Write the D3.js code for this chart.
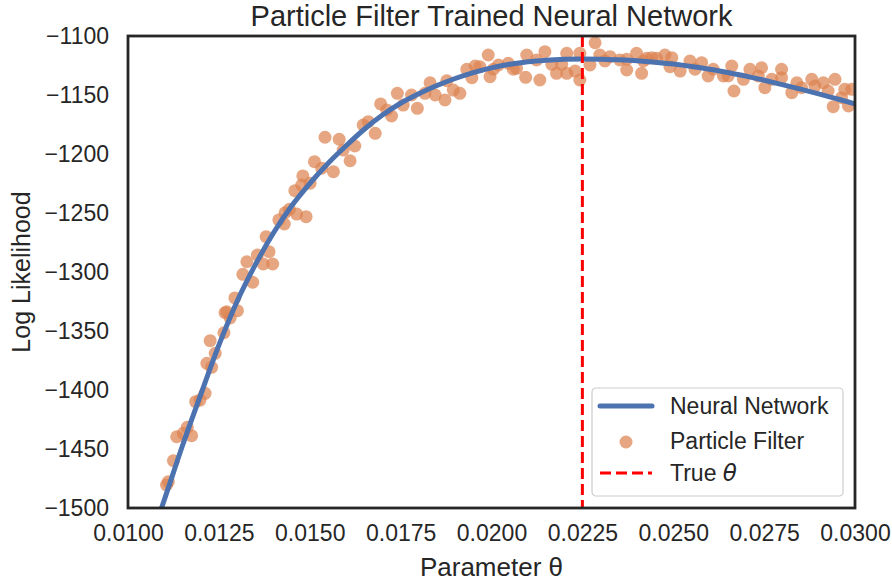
<!DOCTYPE html>
<html>
<head>
<meta charset="utf-8">
<script src="https://cdn.jsdelivr.net/npm/d3@7"></script>
<style>
  body { margin: 0; background: #fff; }
  text { font-family: "Liberation Sans", Arial, sans-serif; fill: #262626; }
</style>
</head>
<body>
<div id="chart"></div>
<script>
// Neural network curve (theta, log likelihood)
var nnTheta = [0.0109, 0.0110, 0.0115, 0.0120, 0.0125, 0.0130, 0.0135, 0.0140, 0.0145, 0.0150,
  0.0155, 0.0160, 0.0165, 0.0170, 0.0175, 0.0180, 0.0185, 0.0190, 0.0195, 0.0200,
  0.0205, 0.0210, 0.0215, 0.0220, 0.0225, 0.0230, 0.0235, 0.0240, 0.0245, 0.0250,
  0.0255, 0.0260, 0.0265, 0.0270, 0.0275, 0.0280, 0.0285, 0.0290, 0.0295, 0.0300]
var nnLL = [-1502, -1493, -1447, -1404, -1362, -1325, -1294, -1267, -1244, -1225,
  -1208, -1193, -1179, -1167, -1157, -1149, -1142, -1136, -1131, -1127,
  -1124, -1121.8, -1120.5, -1119.7, -1119.4, -1119.6, -1120.2, -1121, -1122.2, -1123.8,
  -1125.8, -1128.2, -1131, -1134, -1137.5, -1141.2, -1145, -1149, -1153.2, -1157.5]

// Particle filter estimates
var pfTheta = [0.01106, 0.01111, 0.01125, 0.01134, 0.01152, 0.01163, 0.01175, 0.01186, 0.01198, 0.01212,
  0.01217, 0.01230, 0.01240, 0.01226, 0.01264, 0.01281, 0.01272, 0.01301, 0.01294, 0.01267,
  0.01316, 0.01343, 0.01327, 0.01356, 0.01372, 0.01398, 0.01388, 0.01380, 0.01415, 0.01430,
  0.01432, 0.01464, 0.01490, 0.01444, 0.01459, 0.01478, 0.01481, 0.01501, 0.01513, 0.01533,
  0.01542, 0.01565, 0.01581, 0.01592, 0.01624, 0.01611, 0.01647, 0.01661, 0.01680, 0.01695,
  0.01712, 0.01725, 0.01741, 0.01757, 0.01780, 0.01796, 0.01831, 0.01817, 0.01845, 0.01872,
  0.01877, 0.01895, 0.01913, 0.01932, 0.01955, 0.01946, 0.01968, 0.01991, 0.01996, 0.02005,
  0.02019, 0.02046, 0.02060, 0.02069, 0.02097, 0.02094, 0.02133, 0.02147, 0.02124, 0.02166,
  0.02179, 0.02193, 0.02207, 0.02207, 0.02230, 0.02243, 0.02243, 0.02285, 0.02271, 0.02298,
  0.02312, 0.02326, 0.02353, 0.02372, 0.02372, 0.02399, 0.02413, 0.02418, 0.02427, 0.02441,
  0.02454, 0.02477, 0.02491, 0.02496, 0.02519, 0.02546, 0.02560, 0.02578, 0.02596, 0.02610,
  0.02638, 0.02661, 0.02651, 0.02667, 0.02693, 0.02711, 0.02734, 0.02743, 0.02752, 0.02771,
  0.02798, 0.02798, 0.02826, 0.02840, 0.02853, 0.02881, 0.02890, 0.02913, 0.02926, 0.02940,
  0.02945, 0.02972, 0.02963, 0.02982, 0.02991]
var pfLL = [-1480.5, -1477.7, -1459.9, -1439.6, -1436.7, -1431.6, -1438.7, -1409.9, -1408.5, -1402.8,
  -1377.4, -1380.8, -1368.9, -1358.2, -1351.5, -1339, -1333.7, -1332.8, -1322, -1334.5,
  -1302, -1308.7, -1291.3, -1285.6, -1293.2, -1293.2, -1282.8, -1270.1, -1255.9, -1259.3,
  -1249.8, -1250.9, -1253.1, -1246.9, -1231.1, -1226.3, -1218.6, -1224.8, -1206.5, -1212.1,
  -1185.8, -1215, -1187.5, -1196.6, -1193.2, -1205.7, -1175.4, -1172.6, -1182.5, -1157.6,
  -1162.7, -1167.8, -1148.6, -1158.5, -1150, -1161.3, -1139.6, -1148.6, -1150, -1154.2,
  -1137.9, -1145.8, -1148.6, -1128.2, -1125.4, -1135.3, -1126, -1116.1, -1134.5, -1128.2,
  -1124.6, -1123.1, -1128.2, -1127.4, -1116.1, -1135, -1137.3, -1113.3, -1120.3, -1124,
  -1131.6, -1124, -1114.7, -1131.6, -1129.7, -1137.3, -1114.7, -1105.7, -1124.6, -1116.1,
  -1121.2, -1117.5, -1120.3, -1128.8, -1119.7, -1114.7, -1131.6, -1121.2, -1118.9, -1118.4,
  -1118.9, -1116.1, -1126, -1118.4, -1129.7, -1121.2, -1128.2, -1122.6, -1133.9, -1128.2,
  -1133.9, -1125.4, -1133.9, -1146.6, -1136.7, -1128.2, -1133.9, -1126.9, -1143.8, -1136.7,
  -1128.2, -1135.3, -1148, -1139.6, -1143.8, -1136.7, -1142.4, -1139.6, -1146.6, -1159.9,
  -1136.7, -1145.2, -1152.3, -1159.3, -1145.2]

var trueTheta = 0.0225

var xTicks = [0.0100, 0.0125, 0.0150, 0.0175, 0.0200, 0.0225, 0.0250, 0.0275, 0.0300]
var yTicks = [-1500, -1450, -1400, -1350, -1300, -1250, -1200, -1150, -1100]

var outerWidth = 892, outerHeight = 583
var margin = {top: 36, right: 37, bottom: 75, left: 128}
var width = outerWidth - margin.left - margin.right
var height = outerHeight - margin.top - margin.bottom

var x = d3.scaleLinear().domain([0.01, 0.03]).range([0, width])
var y = d3.scaleLinear().domain([-1500, -1100]).range([height, 0])

var svg = d3.select("#chart")
  .append("svg")
    .attr("width", outerWidth)
    .attr("height", outerHeight)
  .append("g")
    .attr("transform", "translate(" + margin.left + "," + margin.top + ")")

svg.append("clipPath")
    .attr("id", "clip")
  .append("rect")
    .attr("width", width)
    .attr("height", height)

var plot = svg.append("g").attr("clip-path", "url(#clip)")

// scatter
plot.selectAll("circle.pf")
    .data(pfTheta.map(function(t, i) { return [t, pfLL[i]] }))
  .enter().append("circle")
    .classed("pf", true)
    .attr("cx", function(d) { return x(d[0]) })
    .attr("cy", function(d) { return y(d[1]) })
    .attr("r", 6.5)
    .attr("fill", "#dd8452")
    .attr("fill-opacity", 0.72)

// neural network curve
var line = d3.line()
    .x(function(d) { return x(d[0]) })
    .y(function(d) { return y(d[1]) })
    .curve(d3.curveMonotoneX)

plot.append("path")
    .datum(nnTheta.map(function(t, i) { return [t, nnLL[i]] }))
    .attr("d", line)
    .attr("fill", "none")
    .attr("stroke", "#4c72b0")
    .attr("stroke-width", 5)

// true theta
plot.append("line")
    .attr("x1", x(trueTheta)).attr("x2", x(trueTheta))
    .attr("y1", 0).attr("y2", height)
    .attr("stroke", "red")
    .attr("stroke-width", 3)
    .attr("stroke-dasharray", "11,5")

// axes (no tick marks, seaborn white style)
var xAxis = d3.axisBottom(x).tickValues(xTicks).tickSize(0).tickPadding(17)
  .tickFormat(d3.format(".4f"))
var yAxis = d3.axisLeft(y).tickValues(yTicks).tickSize(0).tickPadding(19)
  .tickFormat(function(d) { return "\u2212" + Math.abs(d) })

var gx = svg.append("g")
    .attr("transform", "translate(0," + height + ")")
    .call(xAxis)
gx.select(".domain").remove()
gx.selectAll("text").style("font-size", "23px").attr("fill", "#262626")

var gy = svg.append("g").call(yAxis)
gy.select(".domain").remove()
gy.selectAll("text").style("font-size", "23px").attr("fill", "#262626")

// frame
svg.append("rect")
    .attr("width", width)
    .attr("height", height)
    .attr("fill", "none")
    .attr("stroke", "#262626")
    .attr("stroke-width", 2.8)

// labels
svg.append("text")
    .attr("x", width / 2)
    .attr("y", -10)
    .attr("text-anchor", "middle")
    .style("font-size", "29px")
    .text("Particle Filter Trained Neural Network")

svg.append("text")
    .attr("x", width / 2)
    .attr("y", height + 68)
    .attr("text-anchor", "middle")
    .style("font-size", "26px")
    .text("Parameter \u03b8")

svg.append("text")
    .attr("transform", "rotate(-90)")
    .attr("x", -height / 2)
    .attr("y", -margin.left + 30)
    .attr("text-anchor", "middle")
    .style("font-size", "25px")
    .text("Log Likelihood")

// legend
var legend = svg.append("g")
    .attr("transform", "translate(" + (width - 263) + ",352)")

legend.append("rect")
    .attr("width", 251)
    .attr("height", 108)
    .attr("rx", 4)
    .attr("fill", "#fff")
    .attr("fill-opacity", 0.8)
    .attr("stroke", "#cccccc")
    .attr("stroke-width", 1.2)

legend.append("line")
    .attr("x1", 8).attr("x2", 60).attr("y1", 18).attr("y2", 18)
    .attr("stroke", "#4c72b0").attr("stroke-width", 5).attr("stroke-linecap", "round")
legend.append("circle")
    .attr("cx", 34).attr("cy", 54).attr("r", 6.5)
    .attr("fill", "#dd8452").attr("fill-opacity", 0.72)
legend.append("line")
    .attr("x1", 8).attr("x2", 60).attr("y1", 85).attr("y2", 85)
    .attr("stroke", "red").attr("stroke-width", 3).attr("stroke-dasharray", "11,5")

var labels = ["Neural Network", "Particle Filter"]
legend.selectAll("text.lab")
    .data(labels)
  .enter().append("text")
    .attr("x", 78)
    .attr("y", function(d, i) { return 26 + i * 35 })
    .style("font-size", "23px")
    .text(function(d) { return d })

var trueLab = legend.append("text")
    .attr("x", 78)
    .attr("y", 93)
    .style("font-size", "23px")
trueLab.append("tspan").text("True ")
trueLab.append("tspan")
    .style("font-family", "'DejaVu Sans', sans-serif")
    .style("font-style", "italic")
    .text("\u03b8")
</script>
</body>
</html>
